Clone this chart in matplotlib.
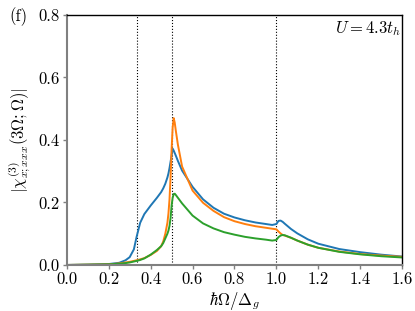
import matplotlib
matplotlib.use("Agg")
import matplotlib.pyplot as plt
import numpy as np

plt.rcParams['mathtext.fontset'] = 'cm'
plt.rcParams['font.family'] = 'serif'
plt.rcParams['font.serif'] = ['cmr10', 'DejaVu Serif']
plt.rcParams['axes.formatter.use_mathtext'] = True

# 光子能量 hbar*Omega / Delta_g
omega = [0.0, 0.1, 0.2, 0.25, 0.28, 0.30, 0.32, 0.333, 0.35, 0.37, 0.40, 0.43, 0.45,
         0.46, 0.47, 0.48, 0.485, 0.49, 0.495, 0.50, 0.505, 0.51, 0.515, 0.52, 0.53, 0.55,
         0.60, 0.65, 0.70, 0.75, 0.80, 0.85, 0.90, 0.95, 0.98, 1.00, 1.01, 1.02, 1.03,
         1.04, 1.07, 1.10, 1.15, 1.20, 1.30, 1.40, 1.50, 1.60]

chi_blue = [0.0, 0.001, 0.003, 0.007, 0.015, 0.025, 0.05, 0.09, 0.135, 0.163, 0.19, 0.215, 0.233,
            0.245, 0.26, 0.28, 0.293, 0.31, 0.33, 0.35, 0.372, 0.366, 0.358, 0.35, 0.333, 0.302,
            0.25, 0.21, 0.183, 0.164, 0.152, 0.143, 0.136, 0.131, 0.128, 0.131, 0.141, 0.142, 0.138,
            0.132, 0.115, 0.101, 0.082, 0.068, 0.051, 0.041, 0.033, 0.027]

chi_orange = [0.0, 0.001, 0.002, 0.005, 0.008, 0.01, 0.013, 0.015, 0.018, 0.022, 0.032, 0.045, 0.06,
              0.075, 0.1, 0.135, 0.165, 0.21, 0.28, 0.37, 0.44, 0.47, 0.455, 0.43, 0.385, 0.315,
              0.238, 0.199, 0.173, 0.153, 0.14, 0.131, 0.124, 0.119, 0.116, 0.114, 0.107, 0.101, 0.096,
              0.094, 0.087, 0.078, 0.065, 0.055, 0.043, 0.035, 0.03, 0.026]

chi_green = [0.0, 0.001, 0.002, 0.004, 0.006, 0.008, 0.011, 0.013, 0.016, 0.021, 0.033, 0.048, 0.06,
             0.07, 0.085, 0.1, 0.11, 0.125, 0.15, 0.19, 0.215, 0.227, 0.228, 0.224, 0.215, 0.197,
             0.158, 0.133, 0.117, 0.105, 0.097, 0.09, 0.085, 0.081, 0.078, 0.08, 0.089, 0.094, 0.096,
             0.095, 0.087, 0.078, 0.065, 0.055, 0.042, 0.034, 0.028, 0.024]

vlines = [1.0 / 3.0, 0.5, 1.0]

fig = plt.figure(figsize=(4.15, 3.11), dpi=100)
ax = fig.add_axes([0.161, 0.148, 0.808, 0.804])

for xv in vlines:
    ax.axvline(xv, color='black', linestyle=':', linewidth=0.8, zorder=1)

ax.plot(omega, chi_blue, color='C0', linewidth=1.4)
ax.plot(omega, chi_orange, color='C1', linewidth=1.4)
ax.plot(omega, chi_green, color='C2', linewidth=1.4)

ax.set_xlim(0, 1.6)
ax.set_ylim(0, 0.8)
ax.set_xticks(np.arange(0, 1.61, 0.2))
ax.set_yticks(np.arange(0, 0.81, 0.2))
ax.set_xticklabels(['%.1f' % v for v in np.arange(0, 1.61, 0.2)])
ax.set_yticklabels(['%.1f' % v for v in np.arange(0, 0.81, 0.2)])

# 左边和下边的坐标轴是灰色的
for side in ['left', 'bottom']:
    ax.spines[side].set_color('#808080')
    ax.spines[side].set_linewidth(1.5)
for side in ['top', 'right']:
    ax.spines[side].set_color('black')
    ax.spines[side].set_linewidth(1.0)
ax.tick_params(axis='both', colors='#808080', labelcolor='black', labelsize=12,
               length=3, width=1, pad=2)

ax.set_xlabel(r'$\hbar\Omega/\Delta_g$', fontsize=12, labelpad=2)
ax.set_ylabel(r'$|\chi^{(3)}_{x;xxx}(3\Omega;\Omega)|$', fontsize=12, labelpad=4)

ax.text(0.995, 0.985, r'$U=4.3t_h$', transform=ax.transAxes, ha='right', va='top', fontsize=12)
fig.text(0.022, 0.975, '(f)', ha='left', va='top', fontsize=12)

plt.savefig('out.png', dpi=100)
